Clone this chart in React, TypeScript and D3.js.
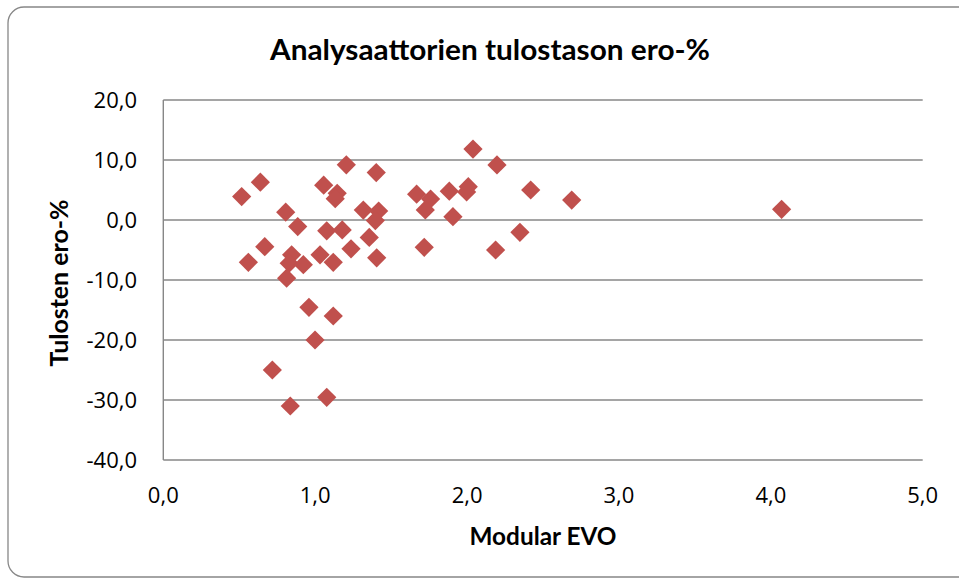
import React from "react";
import * as d3 from "d3";

const xValues = [
  0.516, 0.639, 0.56, 0.668, 0.806, 0.885, 0.845, 0.829, 0.812, 0.922,
  0.959, 0.999, 0.718, 0.836, 1.076, 1.119, 1.056, 1.145, 1.132, 1.076,
  1.032, 1.119, 1.178, 1.205, 1.236, 1.317, 1.356, 1.402, 1.418, 1.396,
  1.405, 1.668, 1.76, 1.725, 1.718, 1.883, 1.907, 1.997, 2.008, 2.039,
  2.197, 2.188, 2.348, 2.419, 2.689, 4.071,
];
const yValues = [
  3.9, 6.3, -7.05, -4.45, 1.3, -1.1, -5.8, -7.2, -9.7, -7.45,
  -14.55, -20.0, -25.0, -31.0, -29.55, -16.0, 5.8, 4.45, 3.55, -1.8,
  -5.8, -7.05, -1.65, 9.2, -4.8, 1.65, -2.9, 7.9, 1.5, -0.1,
  -6.3, 4.3, 3.5, 1.67, -4.55, 4.8, 0.55, 4.67, 5.55, 11.83,
  9.17, -5.0, -2.05, 5.0, 3.33, 1.78,
];
const xTicks = [0, 1, 2, 3, 4, 5];
const yTicks = [20, 10, 0, -10, -20, -30, -40];

const title = "Analysaattorien tulostason ero-%";
const xTitle = "Modular EVO";
const yTitle = "Tulosten ero-%";

const fmt = (v: number) => v.toFixed(1).replace(".", ",");

export default function App() {
  const W = 959;
  const H = 578;
  const left = 163.3;
  const right = 922.7;
  const top = 100;
  const bottom = 460;
  const x = d3.scaleLinear().domain([0, 5]).range([left, right]);
  const y = d3.scaleLinear().domain([-40, 20]).range([bottom, top]);
  const points = xValues.map((v, i) => ({ x: v, y: yValues[i] }));
  const diamond = d3.symbol().type(d3.symbolSquare).size(185)();
  const axisFont = "'Open Sans', sans-serif";
  const titleFont = "Lato, 'Open Sans', sans-serif";
  const grid = "#878787";

  return (
    <svg
      width={W}
      height={H}
      style={{ position: "absolute", left: 0, top: 0, background: "#fff" }}
    >
      <rect x={8} y={7} width={975} height={570} rx={16} ry={16} fill="#fff" stroke={grid} strokeWidth={1.3} />
      <text x={490} y={60} textAnchor="middle" fontFamily={titleFont} fontWeight="bold" fontSize={29} textLength={440} lengthAdjust="spacingAndGlyphs" fill="#000">
        {title}
      </text>
      {yTicks.map((t) => (
        <g key={"y" + t}>
          <line x1={left} x2={right} y1={y(t)} y2={y(t)} stroke={grid} strokeWidth={1.4} />
          <text x={137} y={y(t) + 8} textAnchor="end" fontFamily={axisFont} fontSize={22} fill="#000">
            {fmt(t)}
          </text>
        </g>
      ))}
      <line x1={left} x2={left} y1={top} y2={bottom} stroke={grid} strokeWidth={1.4} />
      {xTicks.map((t) => (
        <text key={"x" + t} x={x(t)} y={503} textAnchor="middle" fontFamily={axisFont} fontSize={22} fill="#000">
          {fmt(t)}
        </text>
      ))}
      <text x={543} y={545} textAnchor="middle" fontFamily={titleFont} fontWeight="bold" fontSize={24} textLength={147} lengthAdjust="spacingAndGlyphs" fill="#000">
        {xTitle}
      </text>
      <text transform={`translate(68,283) rotate(-90)`} textAnchor="middle" fontFamily={titleFont} fontWeight="bold" fontSize={24} textLength={167} lengthAdjust="spacingAndGlyphs" fill="#000">
        {yTitle}
      </text>
      {points.map((p, i) => (
        <path
          key={i}
          d={diamond as string}
          transform={`translate(${x(p.x)},${y(p.y)}) rotate(45)`}
          fill="#C0504D"
        />
      ))}
    </svg>
  );
}
